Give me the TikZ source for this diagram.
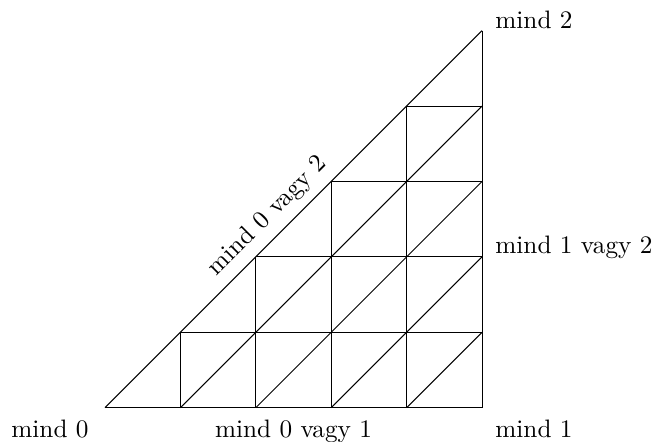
\documentclass[tikz,border=0pt]{standalone}
\usepackage{tikz}
\usetikzlibrary{positioning, calc}

\begin{document}
\begin{tikzpicture}[x=1.05cm, y=1.05cm]
        \useasboundingbox (-1.393,-0.455) rectangle (7.374,5.407);

        % Corners of the triangle
        \coordinate (A) at (0,0);
        \coordinate (B) at (5,0);
        \coordinate (C) at (5,5);

        % Grid inside the triangle
        \foreach \k in {1,...,4} {
            \draw (\k,0) -- (\k,\k);
            \draw (\k,\k) -- (5,\k);
            \draw (\k,0) -- (5,5-\k);
        }

        % Outline
        \draw (A) -- (B) -- (C);
        \draw (A) -- (C) node[pos=0.47, above, sloped] (hyp) {mind 0 vagy 2};

        % Corner and side labels
        \node[anchor=base east] (lA) at (-0.1,-0.39) {mind 0};
        \node[anchor=base] (lAB) at (2.5,-0.39) {mind 0 vagy 1};
        \node[anchor=base west] (lB) at (5.06,-0.39) {mind 1};
        \node[anchor=base west] (lBC) at (5.06,2.05) {mind 1 vagy 2};
        \node[anchor=base west] (lC) at (5.06,5.03) {mind 2};
    \end{tikzpicture}
\end{document}
